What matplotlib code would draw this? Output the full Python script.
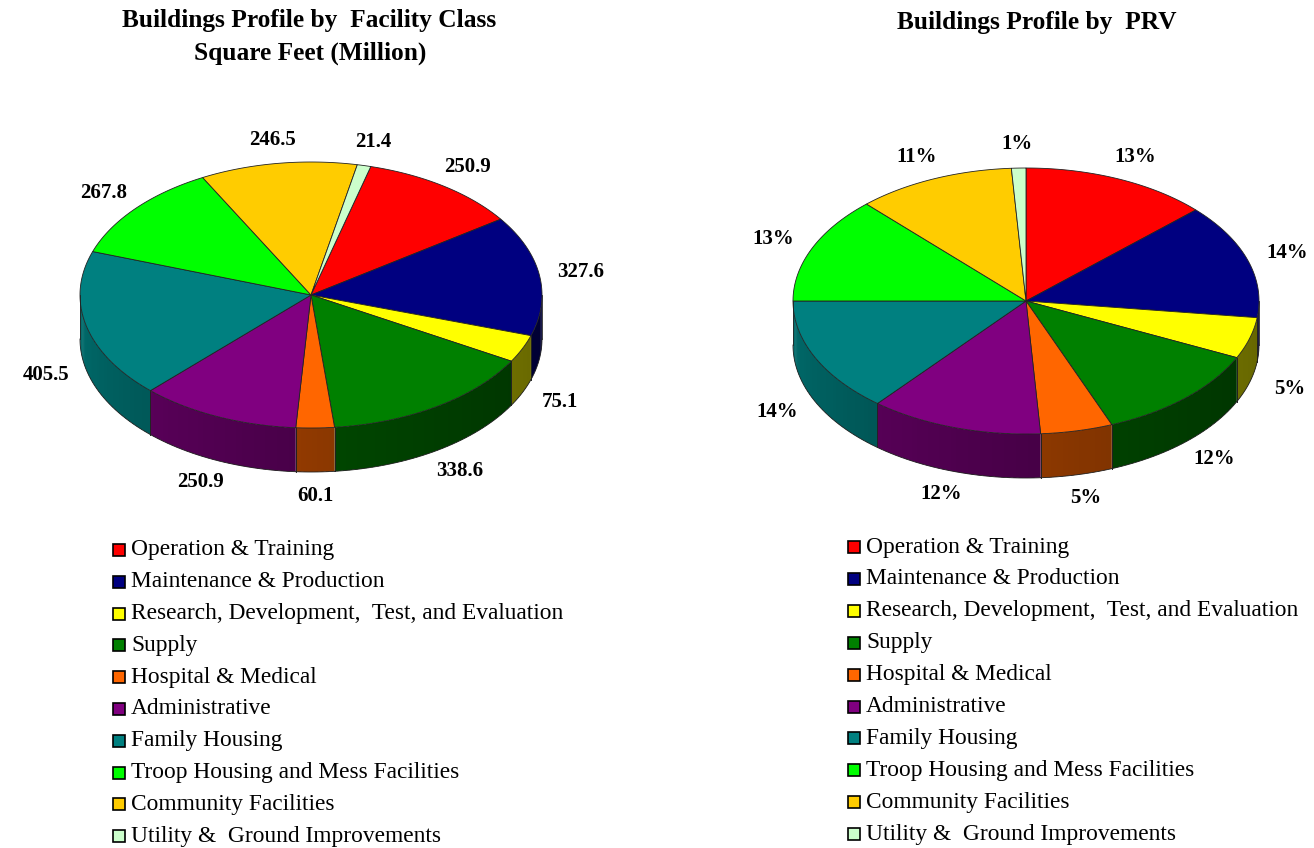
import matplotlib.pyplot as plt
from matplotlib.patches import Polygon, Rectangle
import numpy as np

plt.rcParams['font.family'] = ['Liberation Serif', 'DejaVu Serif']

categories = ["Operation & Training", "Maintenance & Production",
              "Research, Development,  Test, and Evaluation", "Supply",
              "Hospital & Medical", "Administrative", "Family Housing",
              "Troop Housing and Mess Facilities", "Community Facilities",
              "Utility &  Ground Improvements"]
colors = ["#FF0000", "#000080", "#FFFF00", "#008000", "#FF6600",
          "#800080", "#008080", "#00FF00", "#FFCC00", "#CCFFCC"]
sqft = [250.9, 327.6, 75.1, 338.6, 60.1, 250.9, 405.5, 267.8, 246.5, 21.4]
prv_pct = [13, 14, 5, 12, 5, 12, 14, 13, 11, 1]

sqft_labels = [f"{v:.1f}" for v in sqft]
prv_labels = [f"{v}%" for v in prv_pct]


def shade(color, theta):
    # darker wall toward the right, lighter toward the left
    t = np.clip(-theta / 180.0, 0, 1)
    f = 0.4 + 0.45 * t ** 1.5
    r, g, b = [int(color[i:i + 2], 16) / 255 for i in (1, 3, 5)]
    return (r * f, g * f, b * f)


def pie3d(ax, values, labels, cx, cy, rx, ry, depth, start):
    vals = np.asarray(values, float)
    edges = start - np.concatenate([[0], np.cumsum(vals)]) / vals.sum() * 360

    def pt(a, dz=0):
        a = np.radians(a)
        return cx + rx * np.cos(a), cy - ry * np.sin(a) + dz

    # side walls (front half only)
    for i in range(len(vals)):
        hi, lo = edges[i], edges[i + 1]
        for k in range(-2, 2):
            a, b = max(lo, -180 + 360 * k), min(hi, 360 * k)
            if b <= a:
                continue
            steps = np.linspace(b, a, max(2, int((b - a) / 1.5) + 2))
            for s0, s1 in zip(steps[:-1], steps[1:]):
                s1x = max(a, s1 - 0.8)  # small overlap hides seams
                arc = np.linspace(s0, s1x, 4)
                xs, ys = pt(arc)
                poly = list(zip(xs, ys)) + list(zip(xs[::-1], ys[::-1] + depth))
                c = shade(colors[i], (s0 + s1) / 2 - 360 * k)
                ax.add_patch(Polygon(poly, closed=True, facecolor=c,
                                     edgecolor="none", lw=0))
            arc = np.linspace(b, a, 80)
            xs, ys = pt(arc)
            ax.plot(xs, ys + depth, color="#222222", lw=0.6)
            for e in (a, b):
                ex, ey = pt(e)
                ax.plot([ex, ex], [ey, ey + depth], color="#222222", lw=0.6)

    # top faces
    for i in range(len(vals)):
        arc = np.linspace(edges[i], edges[i + 1], 120)
        xs, ys = pt(arc)
        poly = [(cx, cy)] + list(zip(xs, ys))
        ax.add_patch(Polygon(poly, closed=True, facecolor=colors[i],
                             edgecolor="#222222", lw=0.6))

    # value labels
    for i in range(len(vals)):
        mid = (edges[i] + edges[i + 1]) / 2
        a = np.radians(mid)
        x = cx + 1.18 * rx * np.cos(a)
        y = cy - 1.18 * ry * np.sin(a)
        if np.sin(a) < 0:
            y += depth
        ax.text(x, y, labels[i], ha="center", va="center",
                fontsize=15, fontweight="bold")


def legend(ax, x0, y0, dy):
    for i, name in enumerate(categories):
        y = y0 + i * dy
        ax.add_patch(Rectangle((x0, y - 6), 12, 12, facecolor=colors[i],
                               edgecolor="black", lw=1.2))
        ax.text(x0 + 18, y, name, ha="left", va="center", fontsize=16.8)


fig = plt.figure(figsize=(13.14, 8.48), dpi=100)
ax = fig.add_axes([0, 0, 1, 1])
ax.set_xlim(0, 1314)
ax.set_ylim(848, 0)
ax.axis("off")

pie3d(ax, sqft, sqft_labels, 311, 295, 231, 133, 44, 75)
pie3d(ax, prv_pct, prv_labels, 1026, 301, 233, 133, 44, 90)

ax.text(309, 20, "Buildings Profile by  Facility Class", ha="center",
        va="center", fontsize=18.3, fontweight="bold")
ax.text(310, 53, "Square Feet (Million)", ha="center", va="center",
        fontsize=18.3, fontweight="bold")
ax.text(1037, 22, "Buildings Profile by  PRV", ha="center", va="center",
        fontsize=18.3, fontweight="bold")

legend(ax, 113, 550, 31.8)
legend(ax, 848, 547, 31.9)

fig.savefig("out.png", dpi=100)
